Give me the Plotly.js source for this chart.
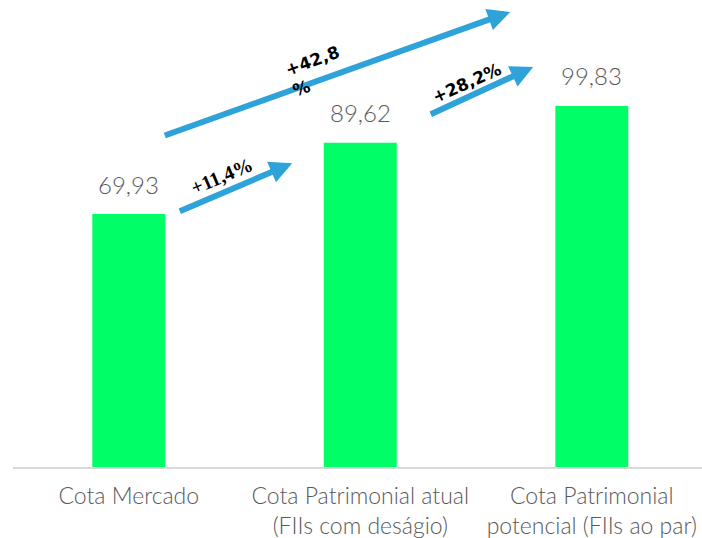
<!DOCTYPE html>
<html><head><meta charset="utf-8">
<script src="https://cdn.plot.ly/plotly-3.0.1.min.js"></script>
<style>html,body{margin:0;padding:0;background:#fff;}#chart{width:702px;height:538px;}</style>
</head><body><div id="chart"></div>
<script>
const categories = ['Cota Mercado', 'Cota Patrimonial atual<br>(FIIs com deságio)', 'Cota Patrimonial<br>potencial (FIIs ao par)'];
const values = [69.93, 89.62, 99.83];
const changeLabels = ['+11,4%', '+42,8<br>%', '+28,2%'];

const xIdx = categories.map((c, i) => i);
const fmt = v => v.toFixed(2).replace('.', ',');

const trace = {
  type: 'bar', x: xIdx, y: values,
  marker: {color: '#00FF66'}, width: 0.315, hoverinfo: 'skip'
};

const blue = '#2EA3DA';
const arrows = [
  {x: 0.706, y: 84.0, ax: 0.214, ay: 70.5},
  {x: 1.648, y: 125.8, ax: 0.149, ay: 91.5},
  {x: 1.747, y: 110.6, ax: 1.298, ay: 97.3}
];
const labelPos = [
  {x: 0.400, y: 80.5, a: -23, al: 'center', f: {family: 'Liberation Serif, serif', size: 20, color: '#000', weight: 700}},
  {x: 0.810, y: 109.5, a: -20, al: 'left', f: {family: 'DejaVu Sans', size: 17, color: '#000', weight: 700}},
  {x: 1.458, y: 106.2, a: -24, al: 'center', f: {family: 'DejaVu Sans', size: 17, color: '#000', weight: 700}}
];

const annotations = [];
values.forEach((v, i) => annotations.push({
  x: i, y: v, xref: 'x', yref: 'y', text: fmt(v), showarrow: false,
  yanchor: 'middle', yshift: 30,
  font: {family: 'Lato', size: 24, color: '#595959', weight: 300}
}));
arrows.forEach(a => annotations.push({
  x: a.x, y: a.y, ax: a.ax, ay: a.ay, xref: 'x', yref: 'y', axref: 'x', ayref: 'y',
  text: '', showarrow: true, arrowhead: 2, arrowsize: 0.75, arrowwidth: 6, arrowcolor: blue
}));
changeLabels.forEach((t, i) => annotations.push({
  x: labelPos[i].x, y: labelPos[i].y, xref: 'x', yref: 'y', text: t, showarrow: false,
  textangle: labelPos[i].a, align: labelPos[i].al, font: labelPos[i].f
}));

const layout = {
  width: 702, height: 538,
  margin: {l: 13, r: 0, t: 0, b: 71},
  paper_bgcolor: '#fff', plot_bgcolor: '#fff',
  showlegend: false,
  xaxis: {
    range: [-0.5, 2.476], tickvals: xIdx, ticktext: categories,
    showline: true, linecolor: '#d9d9d9', linewidth: 2, showgrid: false, zeroline: false,
    ticks: '', ticklabelstandoff: 7,
    tickfont: {family: 'Lato', size: 23, color: '#595959', weight: 300}
  },
  yaxis: {range: [0, 129.1], visible: false, showgrid: false, zeroline: false},
  annotations: annotations
};

Plotly.newPlot('chart', [trace], layout, {displayModeBar: false, staticPlot: true});
</script></body></html>
